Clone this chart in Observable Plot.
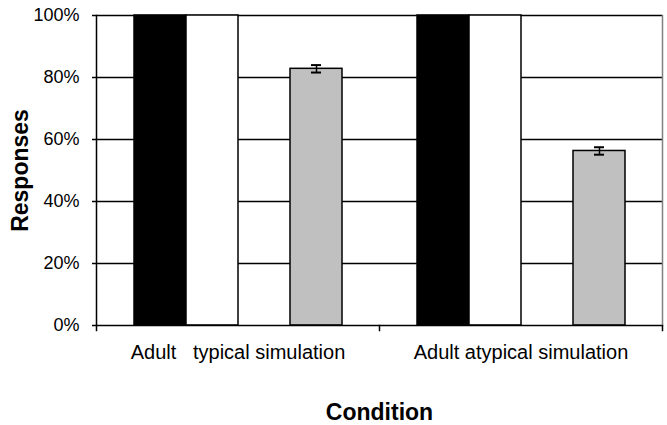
<!DOCTYPE html>
<html>
<head>
<meta charset="utf-8">
<script src="https://cdn.jsdelivr.net/npm/d3@7"></script>
<script src="https://cdn.jsdelivr.net/npm/@observablehq/plot@0.6"></script>
<style>
  html, body { margin: 0; padding: 0; background: #fff; }
  #chart svg { display: block; }
  g[aria-label="fx-axis label"] text,
  g[aria-label="y-axis label"] text { font-weight: bold; font-size: 23px; }
</style>
</head>
<body>
<div id="chart"></div>
<script>
// ---- data ----
const conditions = ["Adult typical simulation", "Adult atypical simulation"];
const conditionTickLabels = ["Adult\u00a0\u00a0\u00a0typical simulation", "Adult atypical simulation"];
const seriesNames = ["Series 1", "Series 2", "Series 3", "Series 4"];
const seriesColors = ["#000000", "#ffffff", "#ffffff", "#c0c0c0"];
const series1 = [100, 100];
const series2 = [100, 100];
const series3 = [null, null];          // empty slot in the reference
const series4 = [82.8, 56.3];
const series4Err = [1.2, 1.2];
const yTicks = [0, 20, 40, 60, 80, 100];

// ---- tables built from the arrays ----
const allSeries = [series1, series2, series3, series4];
const bars = [];
conditions.forEach((c, ci) => {
  allSeries.forEach((s, si) => {
    if (s[ci] != null) bars.push({condition: c, series: seriesNames[si], value: s[ci], color: seriesColors[si]});
  });
});
const errs = conditions.map((c, ci) => ({
  condition: c, series: seriesNames[3], value: series4[ci], err: series4Err[ci]
}));
const tickLabel = new Map(conditions.map((c, i) => [c, conditionTickLabels[i]]));

const chart = Plot.plot({
  width: 667,
  height: 425,
  marginLeft: 95,
  marginRight: 5,
  marginTop: 15,
  marginBottom: 100,
  style: {fontFamily: "'Liberation Sans', Arial, sans-serif", color: "#000", background: "#fff", overflow: "visible"},
  fx: {domain: conditions, padding: 0},
  x: {domain: seriesNames, paddingInner: 0, paddingOuter: 0.7, axis: null},
  y: {domain: [0, 100]},
  color: {type: "identity"},
  marks: [
    Plot.ruleY(yTicks.filter(d => d > 0), {stroke: "#000", strokeWidth: 1.5}),
    Plot.barY(bars, {fx: "condition", x: "series", y: "value", fill: "color", stroke: "#000", strokeWidth: 1.5}),
    Plot.ruleX(errs, {fx: "condition", x: "series", y1: d => d.value - d.err, y2: d => d.value + d.err, stroke: "#000", strokeWidth: 1.5}),
    Plot.tickY(errs, {fx: "condition", x: "series", y: d => d.value - d.err, insetLeft: 21, insetRight: 21, stroke: "#000", strokeWidth: 2}),
    Plot.tickY(errs, {fx: "condition", x: "series", y: d => d.value + d.err, insetLeft: 21, insetRight: 21, stroke: "#000", strokeWidth: 2}),
    Plot.ruleY([0], {stroke: "#000", strokeWidth: 1.5}),
    Plot.frame({anchor: "left", facetAnchor: "left", stroke: "#000", strokeWidth: 1.5}),
    Plot.frame({anchor: "right", facetAnchor: "right", stroke: "#808080", strokeWidth: 1.5}),
    Plot.frame({anchor: "left", insetTop: 310, insetBottom: -5, stroke: "#000", strokeWidth: 1.5}),
    Plot.frame({anchor: "right", facetAnchor: "right", insetTop: 310, insetBottom: -5, stroke: "#000", strokeWidth: 1.5}),
    Plot.axisY({
      ticks: yTicks, tickSize: 4, tickPadding: 13, tickFormat: d => d + "%",
      fontSize: 18, stroke: "#000", strokeWidth: 1.5,
      label: "Responses", labelArrow: "none", labelAnchor: "center", labelOffset: 85
    }),
    Plot.axisFx({
      anchor: "bottom", tickSize: 0, tickPadding: 19, fontSize: 20,
      tickFormat: d => tickLabel.get(d),
      label: "Condition", labelArrow: "none", labelAnchor: "center", labelOffset: 94
    })
  ]
});
document.getElementById("chart").appendChild(chart);
</script>
</body>
</html>
